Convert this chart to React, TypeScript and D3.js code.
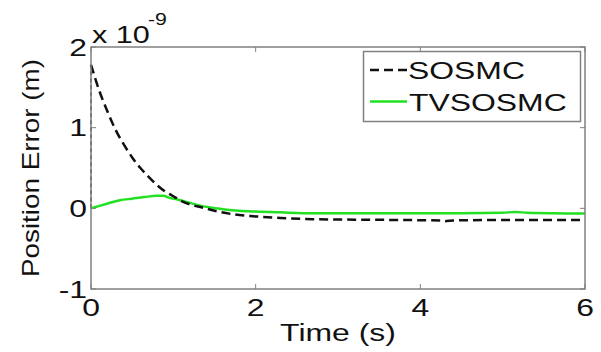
import React from "react";
import * as d3 from "d3";

const xTicks = [0, 2, 4, 6];
const yTicks = [-1, 0, 1, 2];

const sosmcTime = [0, 0, 0.1, 0.2, 0.3, 0.4, 0.5, 0.6, 0.7, 0.8, 0.9, 1.0, 1.1, 1.2, 1.35, 1.5, 1.7, 2.0, 2.3, 2.7, 3.2, 3.8, 4.25, 4.3, 4.4, 5.0, 6.0];
const sosmcValue = [0, 1.78, 1.46, 1.2, 0.97, 0.79, 0.63, 0.5, 0.39, 0.29, 0.21, 0.15, 0.09, 0.05, 0.01, -0.03, -0.07, -0.1, -0.12, -0.135, -0.14, -0.145, -0.15, -0.16, -0.15, -0.145, -0.145];

const tvTime = [0, 0.1, 0.2, 0.35, 0.5, 0.65, 0.8, 0.88, 0.95, 1.05, 1.16, 1.3, 1.45, 1.6, 1.8, 2.0, 2.3, 2.7, 3.5, 4.5, 5.0, 5.15, 5.3, 6.0];
const tvValue = [0, 0.03, 0.06, 0.1, 0.12, 0.14, 0.155, 0.155, 0.13, 0.11, 0.08, 0.04, 0.01, -0.01, -0.03, -0.04, -0.05, -0.06, -0.06, -0.06, -0.055, -0.045, -0.055, -0.065];

const seriesNames = ["SOSMC", "TVSOSMC"];

const W = 601;
const H = 352;
const M = { left: 91, right: 585, top: 47, bottom: 289 };
const SX = 1.33;
const FONT = "Liberation Sans, Arial, Helvetica, sans-serif";
const AXIS = "#808080";
const GREEN = "#22e022";

export default function App() {
  const x = d3.scaleLinear().domain([0, 6]).range([M.left, M.right]);
  const y = d3.scaleLinear().domain([-1, 2]).range([M.bottom, M.top]);
  const line = d3
    .line<[number, number]>()
    .x((d) => x(d[0]))
    .y((d) => y(d[1]))
    .curve(d3.curveMonotoneX);
  const lineLin = d3
    .line<[number, number]>()
    .x((d) => x(d[0]))
    .y((d) => y(d[1]));

  const sosmc: [number, number][] = sosmcTime.map((t, i) => [t, sosmcValue[i]]);
  const tv: [number, number][] = tvTime.map((t, i) => [t, tvValue[i]]);

  // vertical jump segment then smooth decay
  const sosmcJump = sosmc.slice(0, 2);
  const sosmcDecay = sosmc.slice(1);

  const tickLen = 5;

  return (
    <svg
      width={W}
      height={H}
      style={{ position: "absolute", left: 0, top: 0, background: "#fff" }}
      fontFamily={FONT}
    >
      <rect x={0} y={0} width={W} height={H} fill="#fff" />
      {/* data */}
      <path d={lineLin(sosmcJump) || ""} fill="none" stroke="#000" strokeWidth={1.2} strokeDasharray="4,3" />
      <path d={line(tv) || ""} fill="none" stroke={GREEN} strokeWidth={2.5} />
      <path d={line(sosmcDecay) || ""} fill="none" stroke="#111" strokeWidth={2.5} strokeDasharray="9,5" />

      {/* axes box */}
      <rect
        x={M.left}
        y={M.top}
        width={M.right - M.left}
        height={M.bottom - M.top}
        fill="none"
        stroke={AXIS}
        strokeWidth={1.5}
      />
      {xTicks.map((t) => (
        <g key={"xt" + t}>
          <line x1={x(t)} x2={x(t)} y1={M.bottom} y2={M.bottom - tickLen} stroke={AXIS} strokeWidth={1} />
          <line x1={x(t)} x2={x(t)} y1={M.top} y2={M.top + tickLen} stroke={AXIS} strokeWidth={1} />
          <text
            transform={`translate(${x(t)},${316}) scale(${SX},1)`}
            textAnchor="middle"
            fontSize={24}
            fill="#111"
          >
            {t}
          </text>
        </g>
      ))}
      {yTicks.map((t) => (
        <g key={"yt" + t}>
          <line x1={M.left} x2={M.left + tickLen} y1={y(t)} y2={y(t)} stroke={AXIS} strokeWidth={1} />
          <line x1={M.right} x2={M.right - tickLen} y1={y(t)} y2={y(t)} stroke={AXIS} strokeWidth={1} />
          <text
            transform={`translate(${87},${y(t) + 8.6}) scale(${SX},1)`}
            textAnchor="end"
            fontSize={24}
            fill="#111"
          >
            {t}
          </text>
        </g>
      ))}

      {/* exponent */}
      <text transform={`translate(${92},${43}) scale(${SX},1)`} fontSize={23} fill="#111">
        x 10
      </text>
      <text transform={`translate(${148},${25}) scale(${SX},1)`} fontSize={16} fill="#111">
        -9
      </text>

      {/* axis labels */}
      <text
        transform={`translate(${(M.left + M.right) / 2},${341}) scale(${SX},1)`}
        textAnchor="middle"
        fontSize={24}
        fill="#111"
      >
        Time (s)
      </text>
      <text
        transform={`translate(${39},${(M.top + M.bottom) / 2}) rotate(-90) scale(1.16,1)`}
        textAnchor="middle"
        fontSize={24}
        fill="#111"
      >
        Position Error (m)
      </text>

      {/* legend */}
      <rect x={363.5} y={51.5} width={217} height={70} fill="#fff" stroke={AXIS} strokeWidth={1.5} />
      <line x1={370} x2={407} y1={70} y2={70} stroke="#111" strokeWidth={2.5} strokeDasharray="9,5" />
      <line x1={370} x2={407} y1={101.5} y2={101.5} stroke={GREEN} strokeWidth={2.5} />
      <text transform={`translate(${408},${78.5}) scale(${SX},1)`} fontSize={24} fill="#111">
        {seriesNames[0]}
      </text>
      <text transform={`translate(${409},${111}) scale(${SX},1)`} fontSize={24} fill="#111">
        {seriesNames[1]}
      </text>
    </svg>
  );
}
